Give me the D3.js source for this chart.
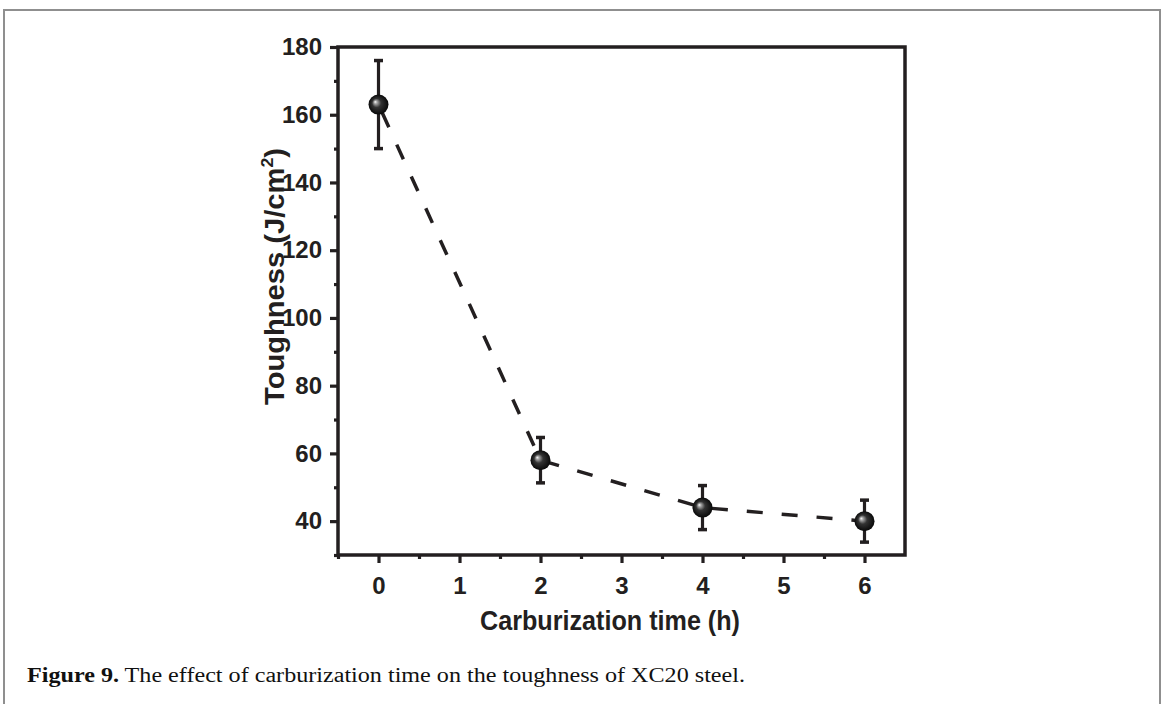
<!DOCTYPE html>
<html>
<head>
<meta charset="utf-8">
<script src="https://cdn.jsdelivr.net/npm/d3@7"></script>
<style>
  body { margin: 0; background: #fff; }
  svg { display: block; }
</style>
</head>
<body>
<div id="chart"></div>
<script>
// Data
const hours = [0, 2, 4, 6];
const toughness = [163, 58, 44, 40];
const errors = [13, 6.7, 6.5, 6.2];
const xTicks = [0, 1, 2, 3, 4, 5, 6];
const xMinorTicks = [-0.5, 0.5, 1.5, 2.5, 3.5, 4.5, 5.5];
const yTicks = [40, 60, 80, 100, 120, 140, 160, 180];
const yMinorTicks = [30, 50, 70, 90, 110, 130, 150, 170];

const W = 1164, H = 704;
const ink = "#231f20";
const margin = {top: 47, right: 259, bottom: 149, left: 338};
const width = W - margin.left - margin.right,
      height = H - margin.top - margin.bottom;

const root = d3.select("#chart").append("svg")
    .attr("width", W)
    .attr("height", H);

// page frame
root.append("rect")
    .attr("x", 4).attr("y", 10)
    .attr("width", 1156).attr("height", 760)
    .attr("fill", "none")
    .attr("stroke", "#8f8f8f")
    .attr("stroke-width", 2);

const defs = root.append("defs");
const grad = defs.append("radialGradient")
    .attr("id", "ball")
    .attr("cx", "50%").attr("cy", "50%").attr("r", "50%")
    .attr("fx", "33%").attr("fy", "36%");
grad.append("stop").attr("offset", "0%").attr("stop-color", "#ffffff");
grad.append("stop").attr("offset", "15%").attr("stop-color", "#a8a8a8");
grad.append("stop").attr("offset", "45%").attr("stop-color", "#333333");
grad.append("stop").attr("offset", "100%").attr("stop-color", "#080808");

const svg = root.append("g")
    .attr("transform", `translate(${margin.left},${margin.top})`);

const x = d3.scaleLinear().domain([-0.5, 6.5]).range([0, width]);
const y = d3.scaleLinear().domain([30, 180]).range([height, 0]);

// axes
svg.append("g")
    .attr("transform", `translate(0,${height})`)
    .call(d3.axisBottom(x).tickValues(xTicks).tickFormat(d3.format("d"))
        .tickSize(8).tickPadding(14));
svg.append("g")
    .attr("transform", `translate(0,${height})`)
    .call(d3.axisBottom(x).tickValues(xMinorTicks).tickFormat("").tickSize(4));

svg.append("g")
    .call(d3.axisLeft(y).tickValues(yTicks).tickFormat(d3.format("d"))
        .tickSize(8).tickPadding(8));
svg.append("g")
    .call(d3.axisLeft(y).tickValues(yMinorTicks).tickFormat("").tickSize(4));

svg.selectAll(".domain").remove();
svg.selectAll(".tick line").attr("stroke", ink).attr("stroke-width", 3.2);
svg.selectAll(".tick text")
    .attr("fill", ink)
    .style("font-family", "'Liberation Sans', Arial, sans-serif")
    .style("font-weight", "bold")
    .style("font-size", "24px");

// frame
svg.append("rect")
    .attr("width", width).attr("height", height)
    .attr("fill", "none")
    .attr("stroke", ink)
    .attr("stroke-width", 3.5);

const pts = hours.map((h, i) => ({h: h, v: toughness[i], e: errors[i]}));

// dashed connecting line
svg.append("path")
    .datum(pts)
    .attr("fill", "none")
    .attr("stroke", ink)
    .attr("stroke-width", 3.5)
    .attr("stroke-dasharray", "16,19")
    .attr("stroke-dashoffset", 26)
    .attr("d", d3.line().x(d => x(d.h)).y(d => y(d.v)));

// error bars
const eb = svg.selectAll(".err").data(pts).enter().append("g").attr("class", "err");
eb.append("line")
    .attr("x1", d => x(d.h)).attr("x2", d => x(d.h))
    .attr("y1", d => y(d.v + d.e)).attr("y2", d => y(d.v - d.e))
    .attr("stroke", ink).attr("stroke-width", 3.2);
eb.append("line")
    .attr("x1", d => x(d.h) - 4.5).attr("x2", d => x(d.h) + 4.5)
    .attr("y1", d => y(d.v + d.e)).attr("y2", d => y(d.v + d.e))
    .attr("stroke", ink).attr("stroke-width", 3.5);
eb.append("line")
    .attr("x1", d => x(d.h) - 4.5).attr("x2", d => x(d.h) + 4.5)
    .attr("y1", d => y(d.v - d.e)).attr("y2", d => y(d.v - d.e))
    .attr("stroke", ink).attr("stroke-width", 3.5);

// sphere markers
svg.selectAll(".pt").data(pts).enter().append("circle")
    .attr("class", "pt")
    .attr("cx", d => x(d.h)).attr("cy", d => y(d.v))
    .attr("r", 10)
    .attr("fill", "url(#ball)");

// axis titles
root.append("text")
    .attr("x", 610).attr("y", 630)
    .attr("text-anchor", "middle")
    .attr("textLength", 260)
    .attr("lengthAdjust", "spacingAndGlyphs")
    .attr("fill", ink)
    .style("font-family", "'Liberation Sans', Arial, sans-serif")
    .style("font-weight", "bold")
    .style("font-size", "27px")
    .text("Carburization time (h)");

const yt = root.append("text")
    .attr("transform", "translate(284,276.5) rotate(-90)")
    .attr("text-anchor", "middle")
    .attr("textLength", 257)
    .attr("lengthAdjust", "spacingAndGlyphs")
    .attr("fill", ink)
    .style("font-family", "'Liberation Sans', Arial, sans-serif")
    .style("font-weight", "bold")
    .style("font-size", "28px");
yt.append("tspan").text("Toughness (J/cm");
yt.append("tspan").attr("dy", -11).style("font-size", "17px").text("2");
yt.append("tspan").attr("dy", 11).text(")");

// caption
const cap = root.append("text")
    .attr("x", 27).attr("y", 682)
    .attr("textLength", 718)
    .attr("lengthAdjust", "spacingAndGlyphs")
    .attr("fill", "#111")
    .style("font-family", "'Liberation Serif', 'Times New Roman', serif")
    .style("font-size", "20px");
cap.append("tspan").style("font-weight", "bold").text("Figure 9.");
cap.append("tspan").text(" The effect of carburization time on the toughness of XC20 steel.");
</script>
</body>
</html>
